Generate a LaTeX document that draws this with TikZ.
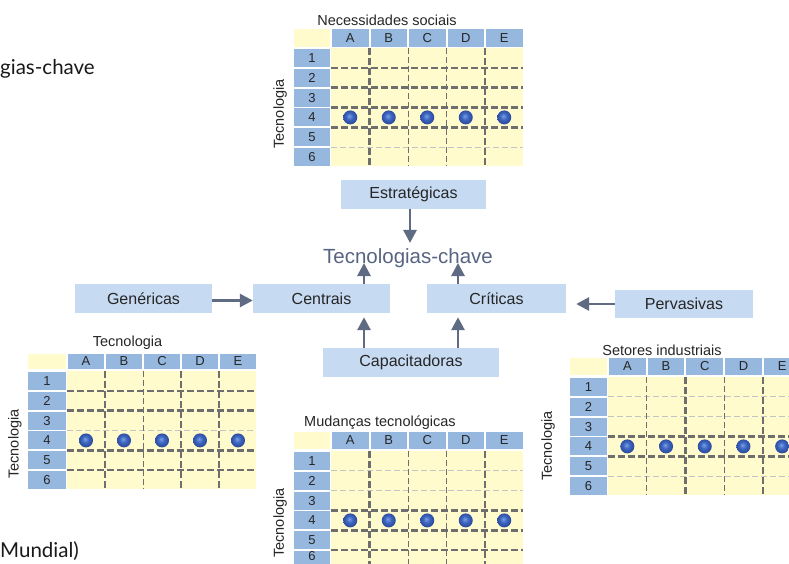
\documentclass[tikz,border=0pt]{standalone}
\usepackage{fontspec}
\setmainfont{Liberation Sans}
\newfontfamily\humfont{Lato}
\usetikzlibrary{arrows.meta,calc}
\definecolor{boxblue}{RGB}{198,218,242}
\definecolor{hdrblue}{RGB}{150,183,222}
\definecolor{yel}{RGB}{255,251,205}
\definecolor{dashg}{RGB}{110,110,110}
\definecolor{faintg}{RGB}{196,196,196}
\definecolor{arrowc}{RGB}{94,107,130}
\definecolor{titlec}{RGB}{88,101,130}
\definecolor{dotlight}{RGB}{120,160,230}
\definecolor{dotmid}{RGB}{62,102,192}
\definecolor{dotdark}{RGB}{36,64,145}
\pgfdeclareradialshading{bluedot}{\pgfpoint{-4bp}{5bp}}{%
  color(0bp)=(dotlight); color(12bp)=(dotmid); color(30bp)=(dotdark); color(50bp)=(dotdark)}
\tikzset{
  boxn/.style={fill=boxblue, inner sep=0pt, text=black!85, font=\fontsize{16}{18}\selectfont},
  arr/.style={draw=arrowc, line width=2.8pt, -{Triangle[length=13pt,width=13pt]}},
  glab/.style={inner sep=0pt, text=black!85, font=\fontsize{13}{15}\selectfont},
  gttl/.style={inner sep=0pt, text=black!85, font=\fontsize{14.5}{16}\selectfont},
  humn/.style={inner sep=0pt, text=black!90, font=\humfont\fontsize{20.5}{22}\selectfont},
  thk/.style={draw=dashg, line width=2.6pt, dash pattern=on 7pt off 3pt},
  thn/.style={draw=dashg, line width=1pt, dash pattern=on 6pt off 3pt},
  fnt/.style={draw=faintg, line width=0.8pt, dash pattern=on 6pt off 3pt},
}
% grid drawer: uses \GX \GY \HH \CW \CP \RY \RP and lists \THH \FHH \TVV \NVV
\newcommand{\mygrid}[1]{%
  \fill[yel] (\GX,\GY) rectangle ++(\CW,\HH);
  \foreach \k/\l in {0/A,1/B,2/C,3/D,4/E}{
    \fill[hdrblue] ({\GX+\CW+2+\k*\CP},\GY) rectangle ++({\CP-2},\HH);
    \node[glab] (#1c\k) at ({\GX+\CW+1+\k*\CP+\CP/2},{\GY+\HH/2}) {\l};
  }
  \foreach \r in {1,...,6}{
    \fill[hdrblue] (\GX,{\RY+(\r-1)*\RP}) rectangle ++(\CW,18);
    \node[glab] (#1r\r) at ({\GX+\CW/2},{min(\RY+(\r-1)*\RP+9,556)}) {\r};
  }
  \fill[yel] ({\GX+\CW+1},{\RY-1}) rectangle ({\GX+\CW+5*\CP},{\RY+5*\RP+18});
  \foreach \r in \FHH{
    \draw[fnt] ({\GX+\CW+1},{\RY+\r*\RP-1}) -- ({\GX+\CW+5*\CP},{\RY+\r*\RP-1});
  }
  \foreach \k in \NVV{
    \draw[thn] ({\GX+\CW+1+\k*\CP},{\RY-1}) -- ({\GX+\CW+1+\k*\CP},{\RY+5*\RP+18});
  }
  \foreach \r in \THH{
    \draw[thk] ({\GX+\CW+1},{\RY+\r*\RP-1}) -- ({\GX+\CW+5*\CP},{\RY+\r*\RP-1});
  }
  \foreach \k in \TVV{
    \draw[thk] ({\GX+\CW+1+\k*\CP},{\RY-1}) -- ({\GX+\CW+1+\k*\CP},{\RY+5*\RP+18});
  }
  \foreach \k in {0,...,4}{
    \shade[shading=bluedot] ({\GX+\CW+1+\k*\CP+\CP/2},{\RY+3*\RP+9}) circle[radius=7pt];
  }
}
\begin{document}
\begin{tikzpicture}[x=1pt,y=-1pt]
\useasboundingbox (0,0) rectangle (789,563);
\clip (0,0) rectangle (789,563);
\fill[white] (0,0) rectangle (789,563);

% fragments of surrounding text
\node[humn, anchor=base west] (frag1) at (0,74) {gias-chave};
\node[humn, anchor=base west] (frag2) at (0,557) {Mundial)};

% top grid
\def\GX{294}\def\GY{29}\def\HH{18}\def\CW{36}\def\CP{38.5}\def\RY{49}\def\RP{19.8}
\def\THH{1,2,3,4}\def\FHH{5}\def\TVV{1,4}\def\NVV{2,3}
\mygrid{gt}
\node[gttl, anchor=base] (gtt) at (387,25) {Necessidades sociais};
\node[gttl, rotate=90] (gtv) at (280,114) {Tecnologia};

% left grid
\def\GX{28}\def\GY{354}\def\HH{15}\def\CW{38}\def\CP{38}\def\RY{372}\def\RP{19.8}
\def\THH{1,2,4,5}\def\FHH{3}\def\TVV{1,3,4}\def\NVV{2}
\mygrid{gl}
\node[gttl, anchor=base] (glt) at (127.5,346.5) {Tecnologia};
\node[gttl, rotate=90] (glv) at (15,444) {Tecnologia};

% bottom grid
\def\GX{294}\def\GY{432}\def\HH{17}\def\CW{36}\def\CP{38.5}\def\RY{452}\def\RP{19.8}
\def\THH{3,4,5}\def\FHH{1,2}\def\TVV{1,4}\def\NVV{2,3}
\mygrid{gb}
\node[gttl, anchor=base] (gbt) at (380,426.5) {Mudanças tecnológicas};
\node[gttl, rotate=90] (gbv) at (280,523) {Tecnologia};

% right grid
\def\GX{570}\def\GY{358}\def\HH{17}\def\CW{37}\def\CP{38.7}\def\RY{378}\def\RP{19.8}
\def\THH{3,4}\def\FHH{1,2,5}\def\TVV{2,4}\def\NVV{1,3}
\mygrid{gr}
\node[gttl, anchor=base] (grt) at (662,355) {Setores industriais};
\node[gttl, rotate=90] (grv) at (548,446) {Tecnologia};

% central diagram
\node[boxn, minimum width=145pt, minimum height=29pt] (estr) at (413.5,194.5) {Estratégicas};
\node[boxn, minimum width=137pt, minimum height=29pt] (gen) at (143.5,298.5) {Genéricas};
\node[boxn, minimum width=137pt, minimum height=29pt] (cent) at (321.5,298.5) {Centrais};
\node[boxn, minimum width=139pt, minimum height=29pt] (crit) at (496.5,298.5) {Críticas};
\node[boxn, minimum width=138pt, minimum height=28pt] (perv) at (684,304) {Pervasivas};
\node[boxn, minimum width=176pt, minimum height=29pt] (cap) at (411,362.5) {Capacitadoras};
\node[inner sep=0pt, text=titlec, font=\fontsize{20.5}{22}\selectfont, anchor=base] (tk) at (408,263) {Tecnologias-chave};

\draw[arr, shorten >=5pt] ([xshift=-3.5pt]estr.south) -- ([xshift=-3.5pt]estr.south |- tk.north);
\draw[arr] ([xshift=42.5pt]cent.north) -- ([xshift=42.5pt]cent.north |- tk.base);
\draw[arr] ([xshift=-38.5pt]crit.north) -- ([xshift=-38.5pt]crit.north |- tk.base);
\draw[arr, shorten >=4pt] ([xshift=-47pt]cap.north) -- ([xshift=-47pt]cap.north |- cent.south);
\draw[arr, shorten >=4pt] ([xshift=47pt]cap.north) -- ([xshift=47pt]cap.north |- crit.south);
\draw[arr] ([yshift=-2pt]gen.east) -- ([yshift=-2pt]gen.east -| cent.west);
\draw[arr, shorten >=10pt] (perv.west) -- (perv.west -| crit.east);
\end{tikzpicture}
\end{document}
